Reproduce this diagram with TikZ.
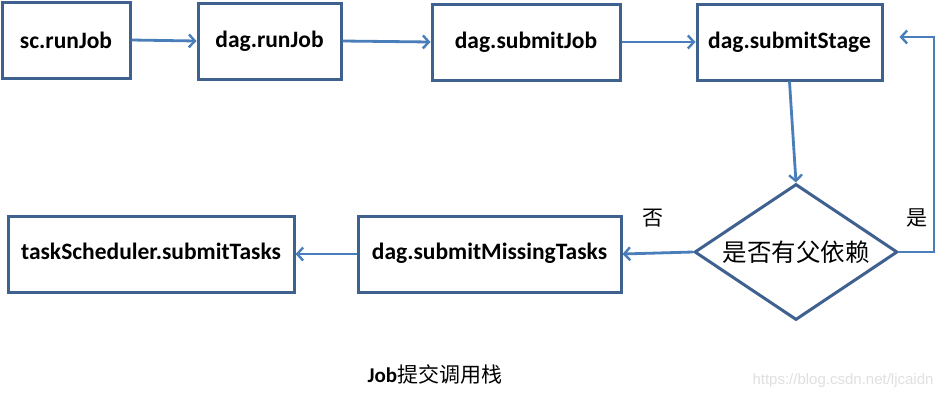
\documentclass[tikz,border=0pt]{standalone}
\usepackage{fontspec}
\setmainfont{Carlito}
\newfontfamily\cjk{Noto Sans CJK SC}
\newfontfamily\wmfont{Liberation Sans}
\usetikzlibrary{shapes.geometric,arrows.meta}
\definecolor{boxc}{HTML}{3F6190}
\definecolor{arrc}{HTML}{4A7EBB}
\begin{document}
\begin{tikzpicture}[x=1pt,y=-1pt,
  box/.style={draw=boxc,line width=3pt,minimum height=76pt,inner sep=0pt,
    font=\fontsize{23.5}{28}\selectfont\bfseries},
  arr/.style={draw=arrc,line width=2.8pt,-{Straight Barb[length=6pt,width=13pt,line width=2.4pt]}},
  lbl/.style={font=\cjk\fontsize{21}{24}\selectfont,inner sep=0pt}]
\useasboundingbox[fill=white] (0,0) rectangle (945,400);
\node[box,minimum width=128pt] (sc) at (66,40) {sc.runJob};
\node[box,minimum width=143pt] (run) at (269.5,41) {dag.runJob};
\node[box,minimum width=188pt] (sj) at (526,42) {dag.submitJob};
\node[box,minimum width=185pt] (ss) at (789.5,42) {\raisebox{4pt}{dag.submitStage}};
\node[draw=boxc,line width=3pt,shape=diamond,aspect=1.49,minimum width=203pt,minimum height=136pt,inner sep=0pt,
  font=\cjk\fontsize{24.5}{28}\selectfont] (dec) at (796,252) {是否有父依赖};
\node[box,minimum width=263pt] (smt) at (489.5,254) {\raisebox{5pt}{dag.submitMissingTasks}};
\node[box,minimum width=286pt] (ts) at (151,254) {\raisebox{5pt}{taskScheduler.submitTasks}};
\node[lbl] (no) at (653,218) {否};
\node[lbl] (yes) at (917,218) {是};
\node[font=\fontsize{21}{24}\selectfont] (cap) at (435,374) {\textbf{Job}{\cjk 提交调用栈}};
\node[font=\wmfont\fontsize{15}{18}\selectfont,text=black!12] (wm) at (843,381) {https://blog.csdn.net/ljcaidn};
\coordinate (rc) at (934,37);
\draw[arr] (sc.east) -- (run.west);
\draw[arr] (run.east) -- (sj.west);
\draw[arr] (sj.east) -- (ss.west);
\draw[arr] (ss.south) -- (dec.north);
\draw[arr,shorten >=16pt] (dec.east) -| (rc) -- (ss.east |- rc);
\draw[arr] (dec.west) -- (smt.east);
\draw[arr] (smt.west) -- (ts.east);
\end{tikzpicture}
\end{document}
